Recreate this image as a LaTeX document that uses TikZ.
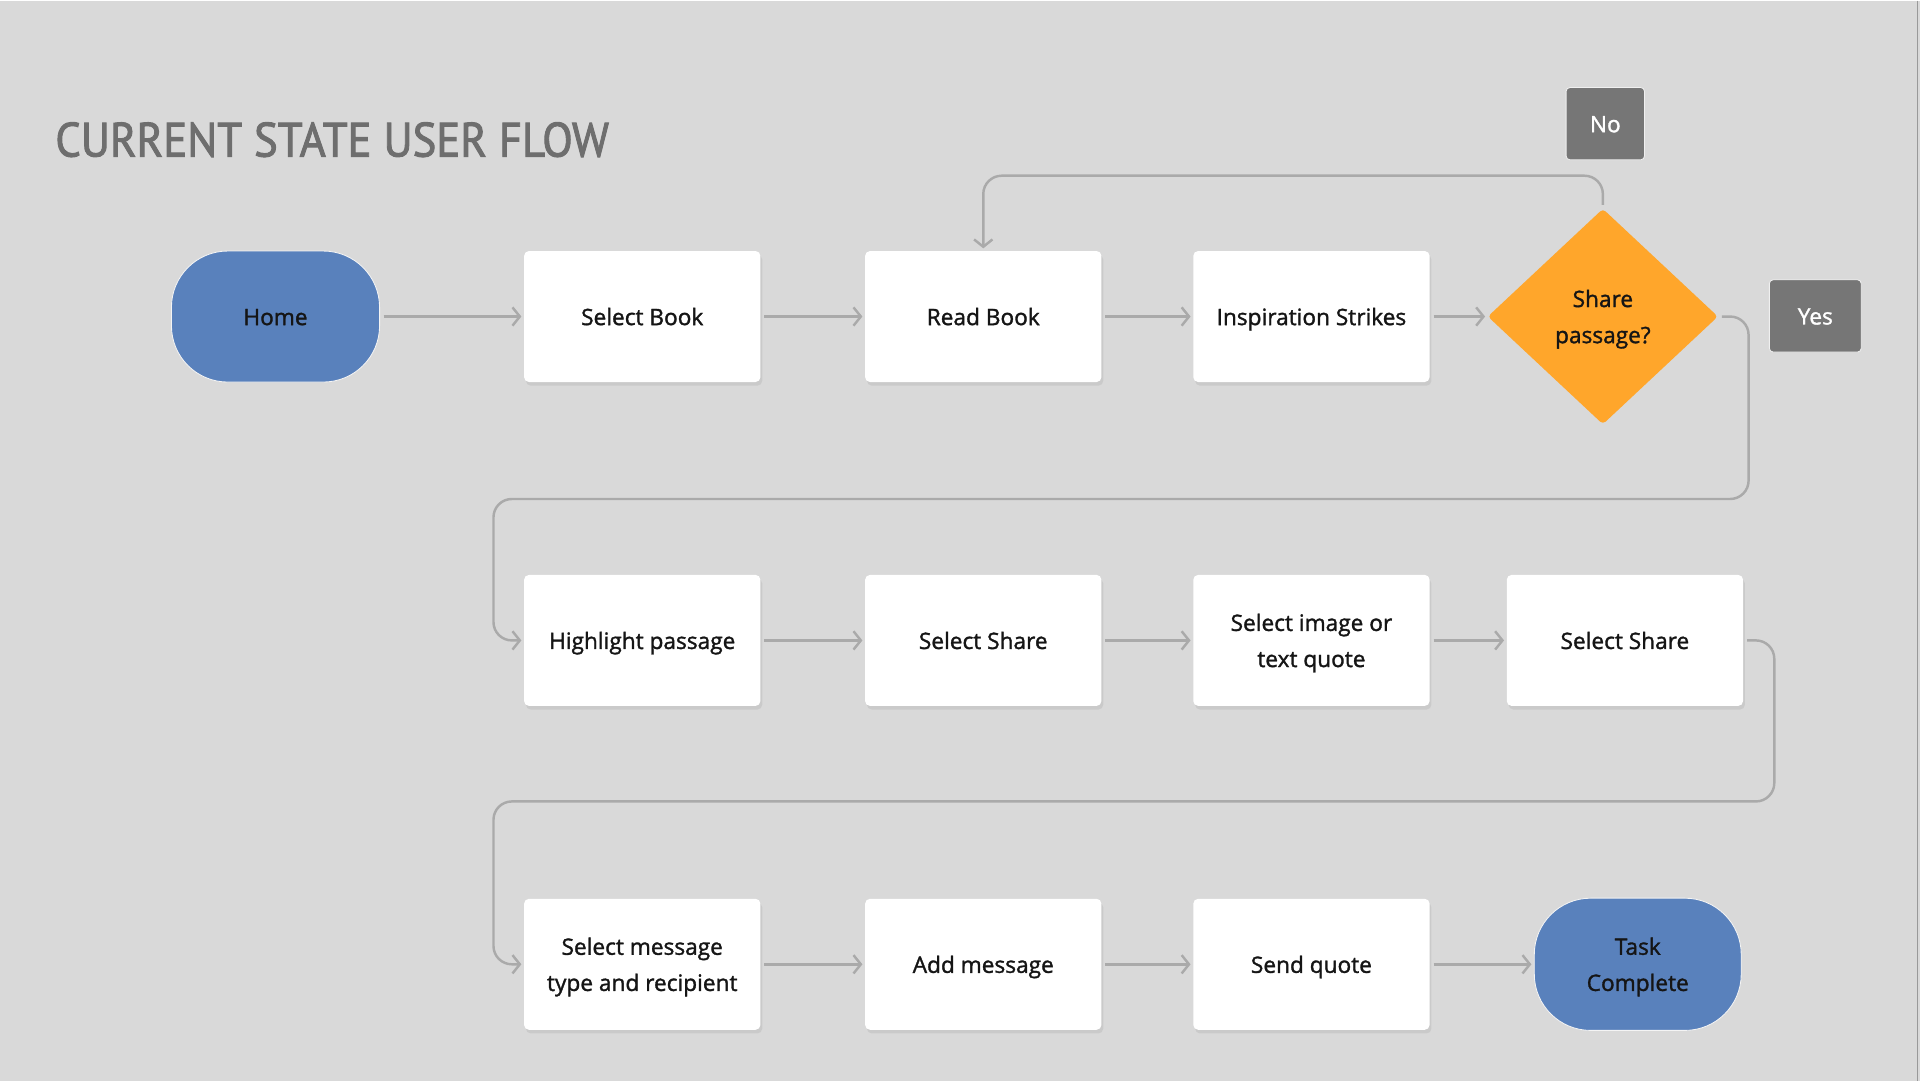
\documentclass[tikz,border=0pt]{standalone}
\usepackage{fontspec}
\setmainfont[FakeBold=1.4]{Open Sans}
\newfontfamily\titlefnt[FakeBold=2]{PT Sans}
\usetikzlibrary{shapes.geometric,arrows.meta,shadows}
\definecolor{bg}{HTML}{D9D9D9}
\definecolor{blueA}{HTML}{5981BC}
\definecolor{orangeA}{HTML}{FFA62B}
\definecolor{grayA}{HTML}{767676}
\definecolor{lineA}{HTML}{AAAAAA}
\definecolor{txtA}{HTML}{151515}
\definecolor{titleA}{HTML}{6E6E6E}
\newcommand\flowfnt{\fontsize{18.5}{29.5}\selectfont}
\newcommand\fs{\rule[-7pt]{0pt}{28pt}}
\begin{document}
\begin{tikzpicture}[x=1pt,y=-1pt,
  stepbox/.style={fill=white, rounded corners=4pt, minimum width=193pt, minimum height=107pt,
    align=center, text=txtA, font=\flowfnt, inner sep=2pt,
    drop shadow={shadow xshift=1.5pt, shadow yshift=-3pt, opacity=0.16}},
  termbox/.style={fill=blueA, draw=white!70!bg, line width=0.7pt, rounded corners=46pt,
    minimum width=170pt, minimum height=107pt, align=center, text=txtA, font=\flowfnt},
  labbox/.style={fill=grayA, draw=white!60!bg, line width=0.7pt, rounded corners=3pt,
    text=white, font=\flowfnt, minimum height=59pt, inner sep=0pt},
  arr/.style={draw=lineA, line width=2pt, -{Straight Barb[length=6pt,width=15pt]},
    rounded corners=15pt, shorten >=2pt, shorten <=3pt},
]
\fill[bg] (0,0) rectangle (1568,882);
\draw[color=black!40, line width=1pt] (1566,0) -- (1566,882);
\useasboundingbox (0,0) rectangle (1568,882);

% title
\node[anchor=south west, inner sep=0pt, text=titleA] (title) at (45,128)
  {\resizebox{452pt}{28pt}{\titlefnt CURRENT STATE USER FLOW}};

% row 1
\node[termbox] (home) at (225,258) {\fs Home};
\node[stepbox] (sb) at (524.5,258) {\fs Select Book};
\node[stepbox] (rb) at (803,258) {\fs Read Book};
\node[stepbox] (is) at (1071,258) {\fs Inspiration Strikes};
\node[diamond, fill=orangeA, minimum width=188pt, minimum height=176pt, inner sep=0pt,
  rounded corners=3pt, align=center, font=\flowfnt, text=txtA] (dia) at (1309,258) {\fs Share\\\fs passage?};
\node[labbox, minimum width=64pt] (no) at (1311,100.5) {\fs No};
\node[labbox, minimum width=75pt] (yes) at (1482.5,257.5) {\fs Yes};

% row 2
\node[stepbox] (hp) at (524.5,522.5) {\fs Highlight passage};
\node[stepbox] (ss1) at (803,522.5) {\fs Select Share};
\node[stepbox] (si) at (1071,522.5) {\fs Select image or\\\fs text quote};
\node[stepbox] (ss2) at (1327,522.5) {\fs Select Share};

% row 3
\node[stepbox] (sm) at (524.5,787) {\fs Select message\\\fs type and recipient};
\node[stepbox] (am) at (803,787) {\fs Add message};
\node[stepbox] (sq) at (1071,787) {\fs Send quote};
\node[termbox, minimum width=169pt, minimum height=108pt] (tc) at (1337.5,787) {\fs Task\\\fs Complete};

% helper coordinates
\coordinate (n1) at (1309,143);
\coordinate (n2) at (803,143);
\coordinate (y1) at (1428,407);
\coordinate (y2) at (403,407);
\coordinate (s1) at (1449,654);
\coordinate (s2) at (403,654);

% connectors
\draw[arr] (home) -- (sb);
\draw[arr] (sb) -- (rb);
\draw[arr] (rb) -- (is);
\draw[arr] (is) -- (dia);
\draw[arr] (dia.north) -- (n1) -- (n2) -- (rb.north);
\draw[arr] (dia.east) -| (y1) -- (y2) |- (hp.west);
\draw[arr] (hp) -- (ss1);
\draw[arr] (ss1) -- (si);
\draw[arr] (si) -- (ss2);
\draw[arr] (ss2.east) -| (s1) -- (s2) |- (sm.west);
\draw[arr] (sm) -- (am);
\draw[arr] (am) -- (sq);
\draw[arr] (sq) -- (tc);
\end{tikzpicture}
\end{document}
